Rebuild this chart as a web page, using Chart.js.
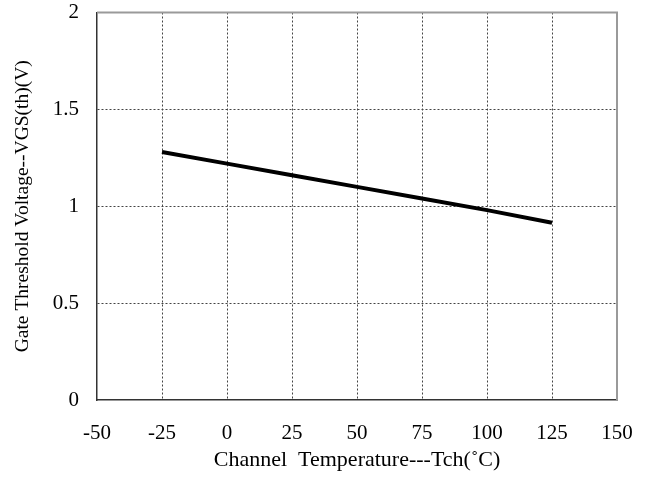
<!DOCTYPE html>
<html>
<head>
<meta charset="utf-8">
<script src="https://cdn.jsdelivr.net/npm/chart.js@4"></script>
<style>
  html, body { margin: 0; padding: 0; background: #fff; }
  #wrap { width: 651px; height: 479px; }
</style>
</head>
<body>
<div id="wrap"><canvas id="myChart" width="651" height="479"></canvas></div>
<script>
// channel temperature (°C) and gate threshold voltage (V)
let temps = [-25, 0, 25, 50, 75, 100, 125];
let vgsth = [1.28, 1.22, 1.16, 1.10, 1.04, 0.98, 0.915];

let xTicks = { min: -50, max: 150, step: 25 };
let yTicks = { min: 0, max: 2, step: 0.5 };

let serif = "'Liberation Serif', 'DejaVu Serif', serif";

// hide the dotted grid line on the outer edges, the frame covers them
function edgeGrid(ctx) {
  let n = ctx.scale.ticks.length;
  return (ctx.index === 0 || ctx.index === n - 1) ? 'rgba(0,0,0,0)' : '#444';
}

// top and right edges of the plot frame
const framePlugin = {
  id: 'frame',
  beforeDatasetsDraw(chart) {
    let a = chart.chartArea;
    let ctx = chart.ctx;
    ctx.save();
    ctx.strokeStyle = '#9a9a9a';
    ctx.lineWidth = 2;
    ctx.beginPath();
    ctx.moveTo(a.left, a.top);
    ctx.lineTo(a.right, a.top);
    ctx.lineTo(a.right, a.bottom);
    ctx.stroke();
    ctx.restore();
  }
};

let ctx = document.getElementById('myChart').getContext('2d');

let myChart = new Chart(ctx, {
  type: 'line',
  data: {
    labels: temps,
    datasets: [{
      data: temps.map((t, i) => ({ x: t, y: vgsth[i] })),
      borderColor: '#000',
      borderWidth: 4,
      pointRadius: 0,
      tension: 0,
      fill: false
    }]
  },
  options: {
    responsive: false,
    animation: false,
    layout: { padding: { left: 0, top: 12.5, right: 34, bottom: 0 } },
    plugins: {
      legend: { display: false },
      tooltip: { enabled: false }
    },
    scales: {
      x: {
        type: 'linear',
        min: xTicks.min,
        max: xTicks.max,
        afterFit(scale) {
          scale.height = 79;
          scale.paddingLeft = 0;
          scale.paddingRight = 0;
        },
        ticks: {
          stepSize: xTicks.step,
          color: '#000',
          padding: 21,
          maxRotation: 0,
          font: { family: serif, size: 21 }
        },
        grid: { color: edgeGrid, lineWidth: 1, drawTicks: false },
        border: { color: '#333', width: 1.5, dash: [2, 2] },
        title: {
          display: true,
          text: 'Channel  Temperature---Tch(˚C)',
          color: '#000',
          padding: { top: 0, bottom: 6 },
          font: { family: serif, size: 22 }
        }
      },
      y: {
        min: yTicks.min,
        max: yTicks.max,
        afterFit(scale) {
          scale.width = 97;
          scale.paddingTop = 0;
          scale.paddingBottom = 0;
        },
        ticks: {
          stepSize: yTicks.step,
          color: '#000',
          padding: 18,
          font: { family: serif, size: 21 },
          callback: v => String(v)
        },
        grid: { color: edgeGrid, lineWidth: 1, drawTicks: false },
        border: { color: '#333', width: 1.5, dash: [2, 2] },
        title: {
          display: true,
          text: 'Gate Threshold Voltage--VGS(th)(V)',
          color: '#000',
          padding: { top: 11, bottom: 0 },
          font: { family: serif, size: 19.5 }
        }
      }
    }
  },
  plugins: [framePlugin]
});
</script>
</body>
</html>
